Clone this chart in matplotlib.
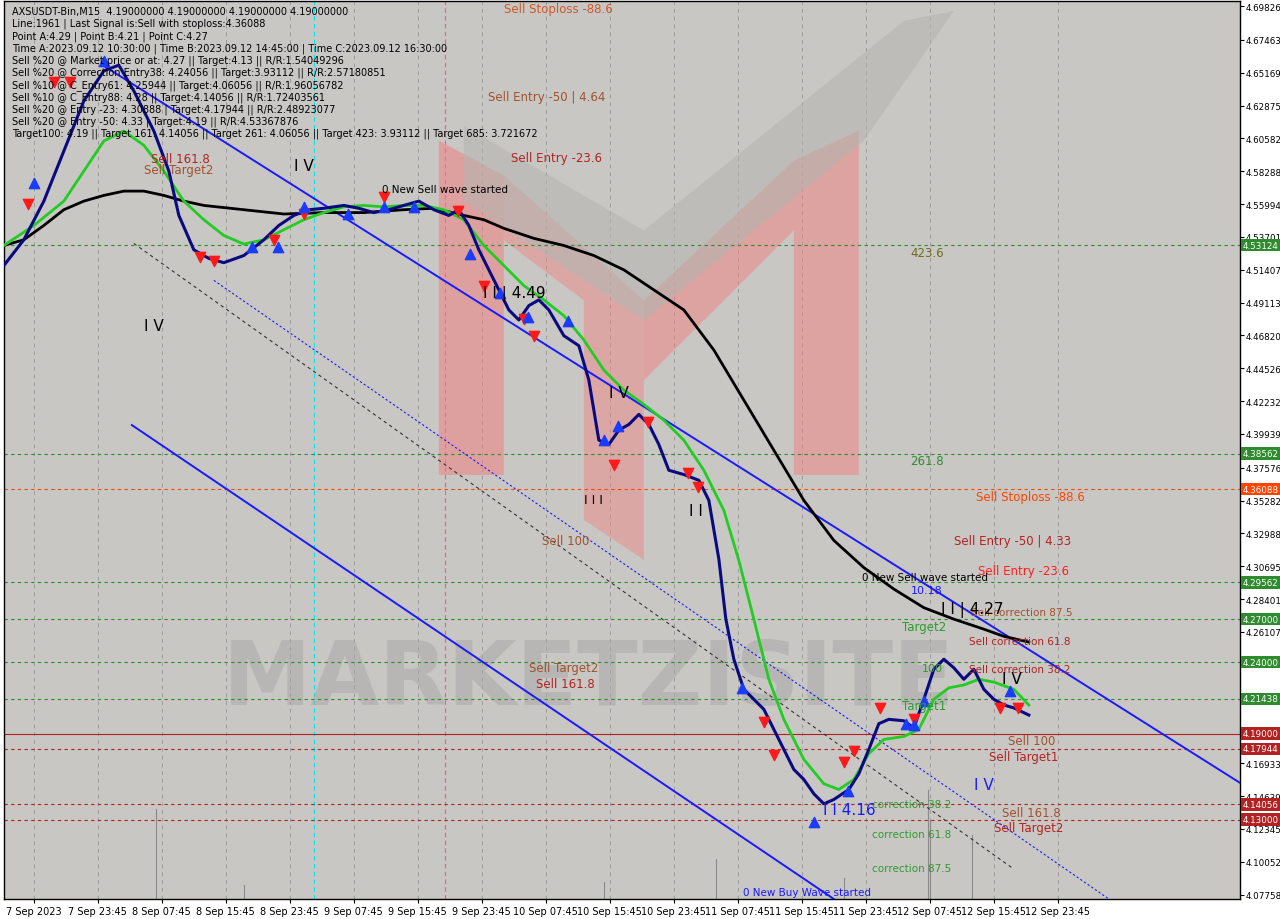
import matplotlib.pyplot as plt
from matplotlib.patches import Polygon
import numpy as np

# ============================================================
# Data (bar index on M15, price)
# ============================================================
Y_TOP, Y_BOT = 4.7018, 4.0745
K = (Y_TOP - Y_BOT) / 900.0

navy_x = [0, 10, 20, 30, 40, 50, 57.5, 65, 75, 82.5, 87.5, 95, 102.5, 110, 120, 130, 137.5, 145, 152.5, 160, 170,
          177.5, 185, 192.5, 200, 207.5, 215, 222.5, 227.5, 232.5, 237.5, 242.5, 247.5, 252.5, 257.5, 262.5, 267.5,
          272.5, 280, 287.5, 292.5, 297.5, 302.5, 307.5, 312.5, 317.5, 322.5, 327.5, 332.5, 340, 347.5, 352.5, 357.5,
          361, 365, 370, 375, 380, 385, 390, 395, 400, 405, 410, 415, 422.5, 427.5, 432.5, 437.5, 442.5, 450, 455,
          460, 465, 470, 475, 480, 485, 490, 495, 500, 505, 512.5]
navy_y = [4.517, 4.535, 4.562, 4.597, 4.632, 4.653, 4.657, 4.639, 4.611, 4.583, 4.552, 4.528, 4.522, 4.519, 4.524,
          4.535, 4.545, 4.552, 4.556, 4.557, 4.559, 4.557, 4.554, 4.556, 4.559, 4.562, 4.556, 4.552, 4.556, 4.545,
          4.528, 4.514, 4.500, 4.486, 4.479, 4.489, 4.493, 4.486, 4.468, 4.461, 4.437, 4.395, 4.392, 4.402, 4.406,
          4.413, 4.406, 4.392, 4.374, 4.371, 4.367, 4.353, 4.312, 4.270, 4.242, 4.221, 4.214, 4.207, 4.193, 4.179,
          4.165, 4.158, 4.148, 4.141, 4.144, 4.151, 4.162, 4.179, 4.197, 4.200, 4.199, 4.194, 4.214, 4.235, 4.242,
          4.236, 4.228, 4.235, 4.221, 4.214, 4.210, 4.208, 4.203]

green_x = [0, 15, 30, 40, 50, 60, 70, 80, 90, 100, 110, 120, 130, 140, 150, 160, 170, 180, 190, 200, 210, 220, 230,
           240, 250, 260, 270, 280, 290, 300, 310, 320, 330, 340, 350, 360, 367.5, 375, 382.5, 390, 400, 410, 417.5,
           425, 432.5, 440, 450, 457.5, 465, 472.5, 480, 487.5, 495, 505, 512.5]
green_y = [4.531, 4.545, 4.562, 4.583, 4.604, 4.611, 4.601, 4.583, 4.562, 4.549, 4.538, 4.532, 4.535, 4.542, 4.549,
           4.554, 4.558, 4.559, 4.558, 4.559, 4.559, 4.556, 4.549, 4.531, 4.517, 4.503, 4.493, 4.482, 4.465, 4.444,
           4.430, 4.420, 4.409, 4.395, 4.374, 4.346, 4.311, 4.270, 4.228, 4.200, 4.172, 4.155, 4.151, 4.158, 4.176,
           4.186, 4.188, 4.193, 4.214, 4.222, 4.224, 4.228, 4.226, 4.221, 4.210]

black_x = [0, 10, 20, 30, 40, 50, 60, 70, 80, 90, 100, 120, 140, 160, 180, 200, 215, 230, 240, 250, 265, 280, 295,
           310, 325, 340, 355, 370, 385, 400, 415, 430, 445, 460, 475, 490, 500, 512.5]
black_y = [4.531, 4.535, 4.545, 4.556, 4.562, 4.566, 4.569, 4.569, 4.566, 4.562, 4.559, 4.556, 4.553, 4.554, 4.554,
           4.556, 4.557, 4.552, 4.549, 4.543, 4.536, 4.531, 4.524, 4.514, 4.500, 4.486, 4.458, 4.423, 4.388, 4.353,
           4.325, 4.306, 4.291, 4.278, 4.270, 4.263, 4.258, 4.254]

# horizontal levels (price, colour of line/label)
levels = [4.53124, 4.38562, 4.36088, 4.29562, 4.27000, 4.24000, 4.21438, 4.19000, 4.17944, 4.14056, 4.13000]
level_col = ['#2e8b2e', '#2e8b2e', '#ff4500', '#2e8b2e', '#2e8b2e', '#2e8b2e', '#2e8b2e',
             '#b22222', '#b22222', '#b22222', '#b22222']

yticks = [4.69826, 4.67463, 4.65169, 4.62875, 4.60582, 4.58288, 4.55994, 4.53701, 4.51407, 4.49113, 4.46820,
          4.44526, 4.42232, 4.39939, 4.37576, 4.35282, 4.32988, 4.30695, 4.28401, 4.26107, 4.16933, 4.14639,
          4.12345, 4.10052, 4.07758]

xlabels = ['7 Sep 2023', '7 Sep 23:45', '8 Sep 07:45', '8 Sep 15:45', '8 Sep 23:45', '9 Sep 07:45',
           '9 Sep 15:45', '9 Sep 23:45', '10 Sep 07:45', '10 Sep 15:45', '10 Sep 23:45', '11 Sep 07:45',
           '11 Sep 15:45', '11 Sep 23:45', '12 Sep 07:45', '12 Sep 15:45', '12 Sep 23:45']

# signals
sell_x = [12, 25, 33, 98, 105, 135, 150, 190, 227, 240, 260, 265, 305, 322, 342, 347, 380, 385, 420, 425, 438,
          455, 498, 507]
sell_y = [4.560, 4.645, 4.645, 4.523, 4.520, 4.535, 4.553, 4.565, 4.555, 4.503, 4.480, 4.468, 4.378, 4.408, 4.372,
          4.362, 4.198, 4.175, 4.170, 4.178, 4.208, 4.200, 4.208, 4.208]
buy_x = [15, 50, 124, 137, 150, 172, 190, 205, 233, 248, 262, 282, 300, 307, 369, 405, 422, 451, 455, 460, 503]
buy_y = [4.575, 4.660, 4.530, 4.530, 4.558, 4.553, 4.558, 4.558, 4.525, 4.498, 4.481, 4.478, 4.395, 4.405, 4.222,
         4.128, 4.150, 4.197, 4.196, 4.213, 4.220]

vol_x = [76, 356, 462, 463, 484, 120, 300, 420]
vol_h = [0.063, 0.028, 0.076, 0.055, 0.045, 0.010, 0.012, 0.015]

# ============================================================
# Figure
# ============================================================
fig = plt.figure(figsize=(12.8, 9.2), dpi=100)
fig.patch.set_facecolor('white')
ax = fig.add_axes([0.003, 20 / 920, 1236 / 1280, 898 / 920])
ax.set_facecolor('#c9c7c4')
ax.set_xlim(0, 618)
ax.set_ylim(Y_BOT, Y_TOP)


def px(x, y):
    return x / 2.0, Y_TOP - y * K


# logo (pink M + grey chevron)
logo = [
    ([(435, 140), (500, 175), (500, 475), (435, 475)], '#f08080', 0.55),
    ([(500, 175), (640, 300), (640, 560), (580, 520), (580, 300), (500, 240)], '#f08080', 0.45),
    ([(640, 300), (790, 160), (855, 130), (855, 475), (790, 475), (790, 230), (640, 380)], '#f08080', 0.5),
    ([(460, 125), (640, 230), (900, 20), (950, 10), (860, 140), (640, 320), (460, 200)], '#b5b5b0', 0.6),
]
for pts, col, a in logo:
    ax.add_patch(Polygon([px(*p) for p in pts], closed=True, facecolor=col, edgecolor='none', alpha=a, zorder=1))
ax.text(*px(585, 680), 'MARKETZISITE', fontsize=64, fontweight='bold', color='#a9a9a9', alpha=0.55,
        ha='center', va='center', zorder=1)

# grid
xt = [15 + 32 * i for i in range(len(xlabels))]
for x in xt:
    ax.axvline(x, color='#9a9a9a', linestyle=(0, (4, 4)), linewidth=0.7, zorder=0)
ax.axvline(155, color='#00e5ee', linestyle=(0, (4, 3)), linewidth=0.8, zorder=0)
ax.axvline(220.5, color='#ff4f9a', linestyle=(0, (4, 3)), linewidth=0.8, zorder=0)

# horizontal levels
for lv, c in zip(levels, level_col):
    ls = '-' if lv == 4.19 else (0, (3, 3))
    ax.axhline(lv, color=c, linestyle=ls, linewidth=0.8, zorder=2)
    ax.text(1.002, lv, f'{lv:.5f}', transform=ax.get_yaxis_transform(), fontsize=6.3, color='white',
            va='center', ha='left', zorder=5,
            bbox=dict(boxstyle='square,pad=0.2', facecolor=c, edgecolor='none'), clip_on=False)

# channels
for (a, b), st in [(((100, 65), (1270, 805)), '-'), (((128, 425), (830, 900)), '-')]:
    (x0, y0), (x1, y1) = px(*a), px(*b)
    ax.plot([x0, x1], [y0, y1], color='#1a1aff', linewidth=1.4, linestyle=st, zorder=3)
(x0, y0), (x1, y1) = px(130, 243), px(1010, 870)
ax.plot([x0, x1], [y0, y1], color='#333333', linewidth=0.8, linestyle=(0, (3, 3)), zorder=3)
(x0, y0), (x1, y1) = px(210, 280), px(1105, 900)
ax.plot([x0, x1], [y0, y1], color='#1a1aff', linewidth=0.8, linestyle=(0, (2, 2)), zorder=3)

# volume
for x, h in zip(vol_x, vol_h):
    ax.plot([x, x], [Y_BOT, Y_BOT + h], color='#8a8a8a', linewidth=0.8, zorder=2)

# lines
ax.plot(black_x, black_y, color='black', linewidth=2.0, zorder=4)
ax.plot(green_x, green_y, color='#22cc22', linewidth=2.0, zorder=4)
ax.plot(navy_x, navy_y, color='#0a0a80', linewidth=2.2, zorder=5)

ax.scatter(sell_x, sell_y, marker='v', s=55, color='#ff1a1a', zorder=6)
ax.scatter(buy_x, buy_y, marker='^', s=55, color='#1a3cff', zorder=6)

# annotations
notes = [
    ('Sell Stoploss -88.6', 555, 8, '#cc5a2a', 8.5), ('Sell Entry -50 | 4.64', 543, 96, '#a0522d', 8.5),
    ('Sell Entry -23.6', 553, 157, '#b22222', 8.5), ('423.6', 923, 252, '#6b6b20', 8.5),
    ('261.8', 923, 461, '#2e8b2e', 8.5), ('Sell Stoploss -88.6', 1027, 497, '#ff4500', 8.5),
    ('Sell Entry -50 | 4.33', 1009, 541, '#b22222', 8.5), ('Sell Entry -23.6', 1020, 571, '#ff2020', 8.5),
    ('0 New Sell wave started', 921, 577, 'black', 7.5), ('Sell correction 87.5', 1018, 612, '#a0522d', 7.5),
    ('Sell correction 61.8', 1016, 641, '#b22222', 7.5), ('Sell correction 38.2', 1016, 669, '#b22222', 7.5),
    ('Sell 100', 562, 541, '#a0522d', 8.5), ('Sell Target2', 560, 668, '#a0522d', 8.5),
    ('Sell 161.8', 562, 684, '#b22222', 8.5), ('Sell 100', 1028, 741, '#a0522d', 8.5),
    ('Sell Target1', 1020, 757, '#b22222', 8.5), ('Sell 161.8', 1028, 813, '#a0522d', 8.5),
    ('Sell Target2', 1025, 828, '#b22222', 8.5), ('correction 38.2', 908, 805, '#2e9b2e', 7.5),
    ('correction 61.8', 908, 835, '#2e9b2e', 7.5), ('correction 87.5', 908, 869, '#2e9b2e', 7.5),
    ('0 New Buy Wave started', 803, 893, '#1a1aff', 7.5), ('0 New Sell wave started', 441, 188, 'black', 7.5),
    ('Sell 161.8', 177, 158, '#b22222', 8.5), ('Sell Target2', 175, 169, '#a0522d', 8.5),
    ('Target1', 920, 706, '#2e9b2e', 8.5), ('Target2', 920, 627, '#2e9b2e', 8.5),
    ('10.18', 923, 590, '#1a1aff', 8), ('100', 928, 668, '#2e9b2e', 8),
    ('I I | 4.49', 510, 293, 'black', 11), ('I I 4.16', 845, 810, '#1a1aff', 11),
    ('I I | 4.27', 968, 609, 'black', 11), ('I V', 300, 165, 'black', 11), ('I V', 1008, 679, 'black', 11),
    ('I V', 615, 392, 'black', 11), ('I V', 150, 325, 'black', 11), ('I I I', 590, 500, 'black', 9),
    ('I V', 980, 785, '#1a1aff', 11), ('I I', 692, 511, 'black', 11),
]
for t, x, y, c, s in notes:
    ax.text(*px(x, y), t, color=c, fontsize=s, ha='center', va='center', zorder=7)

info = ['AXSUSDT-Bin,M15  4.19000000 4.19000000 4.19000000 4.19000000',
        'Line:1961 | Last Signal is:Sell with stoploss:4.36088',
        'Point A:4.29 | Point B:4.21 | Point C:4.27',
        'Time A:2023.09.12 10:30:00 | Time B:2023.09.12 14:45:00 | Time C:2023.09.12 16:30:00',
        'Sell %20 @ Market price or at: 4.27 || Target:4.13 || R/R:1.54049296',
        'Sell %20 @ Correction Entry38: 4.24056 || Target:3.93112 || R/R:2.57180851',
        'Sell %10 @ C_Entry61: 4.25944 || Target:4.06056 || R/R:1.96056782',
        'Sell %10 @ C_Entry88: 4.28 || Target:4.14056 || R/R:1.72403561',
        'Sell %20 @ Entry -23: 4.30888 | Target:4.17944 || R/R:2.48923077',
        'Sell %20 @ Entry -50: 4.33 | Target:4.19 || R/R:4.53367876',
        'Target100: 4.19 || Target 161: 4.14056 || Target 261: 4.06056 || Target 423: 3.93112 || Target 685: 3.721672']
for i, t in enumerate(info):
    ax.text(8 / 1236, 1 - (10 + 12.2 * i) / 898, t, transform=ax.transAxes, fontsize=7, color='black',
            va='center', ha='left', zorder=8)

# axes
ax.yaxis.tick_right()
ax.set_yticks(yticks)
ax.set_yticklabels([f'{v:.5f}' for v in yticks], fontsize=6.3)
ax.set_xticks(xt)
ax.set_xticklabels(xlabels, fontsize=7)
ax.tick_params(axis='y', length=3, pad=1)
ax.tick_params(axis='x', length=3, pad=2)
for sp in ax.spines.values():
    sp.set_linewidth(1.0)

fig.savefig('out.png', dpi=100)
